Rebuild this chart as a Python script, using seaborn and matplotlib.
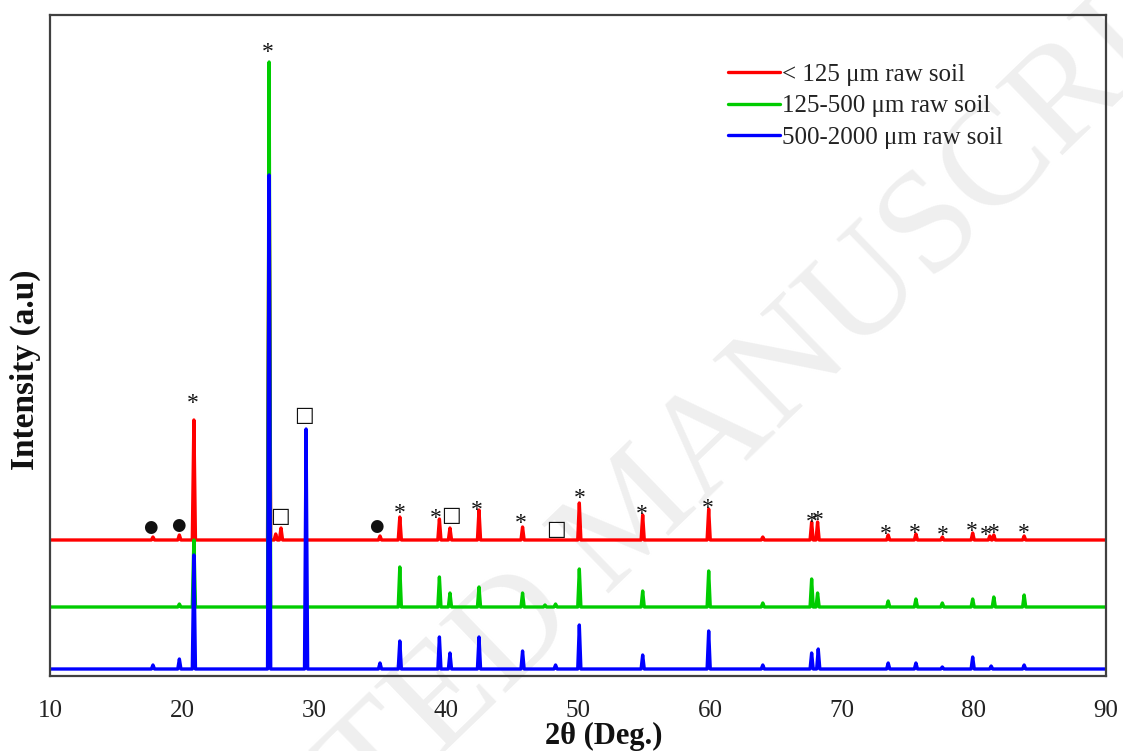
import numpy as np
import pandas as pd
import matplotlib
matplotlib.use("Agg")
import matplotlib.pyplot as plt
import seaborn as sns

# ---------------- data ----------------
series_names = ["< 125 \u03bcm raw soil", "125-500 \u03bcm raw soil", "500-2000 \u03bcm raw soil"]
series_colors = ["#ff0000", "#00cc00", "#0000ff"]

# baseline offsets of each pattern (display intensity units)
base_red = 136
base_green = 69
base_blue = 7

# peak positions (2theta, deg) and heights above baseline
red_pos = [17.8, 19.8, 20.9, 26.6, 27.1, 27.5, 35.0, 36.5, 39.5, 40.3, 42.5, 45.8, 50.1, 54.9,
           59.9, 64.0, 67.7, 68.15, 73.5, 75.6, 77.6, 79.9, 81.2, 81.5, 83.8]
red_h = [3, 5, 120, 400, 6, 12, 4, 23, 21, 12, 30, 13, 37, 25,
         31, 3, 18, 18, 5, 6, 3, 7, 4, 5, 4]

green_pos = [19.8, 20.9, 26.6, 36.5, 39.5, 40.3, 42.5, 45.8, 47.5, 48.3, 50.1, 54.9, 59.9,
             64.0, 67.7, 68.15, 73.5, 75.6, 77.6, 79.9, 81.5, 83.8]
green_h = [3, 67, 545, 40, 30, 14, 20, 14, 2, 3, 38, 16, 36,
           4, 28, 14, 6, 8, 4, 8, 10, 12]

blue_pos = [17.8, 19.8, 20.9, 26.6, 29.4, 35.0, 36.5, 39.5, 40.3, 42.5, 45.8, 48.3, 50.1,
            54.9, 59.9, 64.0, 67.7, 68.2, 73.5, 75.6, 77.6, 79.9, 81.3, 83.8]
blue_h = [4, 10, 114, 494, 240, 6, 28, 32, 16, 32, 18, 4, 44,
          14, 38, 4, 16, 20, 6, 6, 2, 12, 3, 4]

# phase markers: symbol, 2theta, display height
mark_sym = ["\u25cf", "\u25cf", "*", "*", "\u25a1", "\u25a1", "\u25cf", "*", "*", "\u25a1", "*",
            "*", "\u25a1", "*", "*", "*", "*", "*", "*", "*", "*", "*", "*", "*", "*"]
mark_x = [17.6, 19.7, 20.85, 26.5, 27.4, 29.25, 34.7, 36.5, 39.2, 40.4, 42.35,
          45.7, 48.35, 50.1, 54.85, 59.85, 67.7, 68.2, 73.3, 75.5, 77.65, 79.85, 80.9, 81.5, 83.8]
mark_y = [149, 151, 278, 629, 160, 261, 150, 168, 163, 161, 171,
          158, 147, 183, 167, 173, 159, 161, 147, 148, 146, 150, 146, 148, 148]

x_min, x_max = 10, 90
x_ticks = [10, 20, 30, 40, 50, 60, 70, 80, 90]

# ---------------- build long-form table ----------------
def profile(pos, h, base, w=0.12):
    xs, ys = [x_min], [base]
    for p, hh in zip(pos, h):
        xs += [p - w, p, p + w]
        ys += [base, base + hh, base]
    xs.append(x_max)
    ys.append(base)
    return xs, ys

rows = []
for name, pos, h, base in zip(series_names,
                              [red_pos, green_pos, blue_pos],
                              [red_h, green_h, blue_h],
                              [base_red, base_green, base_blue]):
    xs, ys = profile(pos, h, base)
    for xv, yv in zip(xs, ys):
        rows.append((name, xv, yv))
df = pd.DataFrame(rows, columns=["sample", "two_theta", "intensity"])

# ---------------- plot ----------------
sns.set_theme(style="white")
serif = ["Liberation Serif", "DejaVu Serif"]
plt.rcParams["font.family"] = serif

fig = plt.figure(figsize=(11.23, 7.51), dpi=100)
ax = fig.add_axes([50 / 1123, 75 / 751, 1056 / 1123, 661 / 751])
ax.set_facecolor("none")

# watermark (behind the data)
ax.text(0.566, 0.310, "ACCEPTED MANUSCRIPT", transform=fig.transFigure, rotation=44,
        fontsize=106, color="#efefef", ha="center", va="center", zorder=0,
        family=serif, rotation_mode="anchor", clip_on=False)

sns.lineplot(data=df, x="two_theta", y="intensity", hue="sample", hue_order=series_names,
             palette=series_colors, estimator=None, sort=False, linewidth=2.4, ax=ax,
             zorder=3)

for s, xv, yv in zip(mark_sym, mark_x, mark_y):
    if s == "*":
        ax.text(xv, yv - 11, s, ha="center", va="baseline", fontsize=17,
                family=serif, color="#111111", zorder=4)
    elif s == "\u25cf":
        ax.text(xv, yv, s, ha="center", va="center", fontsize=12,
                family=["DejaVu Sans"], color="#111111", zorder=4)
    else:
        ax.text(xv, yv, s, ha="center", va="center", fontsize=15,
                family=["DejaVu Sans"], color="#111111", zorder=4)

ax.set_xlim(x_min, x_max)
ax.set_ylim(0, 661)
ax.set_xticks(x_ticks)
ax.set_xticklabels([str(t) for t in x_ticks])
ax.set_yticks([])
ax.tick_params(axis="x", length=0, pad=17, labelsize=18, labelcolor="#222222")
for sp in ax.spines.values():
    sp.set_visible(True)
    sp.set_color("#404040")
    sp.set_linewidth(1.6)
    sp.set_zorder(5)

ax.set_xlabel("2\u03b8 (Deg.)", fontsize=22, fontweight="bold", color="#111111")
ax.xaxis.set_label_coords(0.524, -0.0908)
ax.xaxis.label.set_va("center")
ax.set_ylabel("Intensity (a.u)", fontsize=24, fontweight="bold", color="#111111")
ax.yaxis.set_label_coords(-0.0237, 0.463)
ax.yaxis.label.set_va("center")

handles, labels = ax.get_legend_handles_labels()
leg = ax.legend(handles, labels, loc="upper left", bbox_to_anchor=(728 / 1123, 1 - 63 / 751),
                bbox_transform=fig.transFigure, frameon=False, fontsize=18,
                handlelength=2.08, handletextpad=0.08, labelspacing=0.37, borderpad=0,
                borderaxespad=0)
leg.set_zorder(6)
for t in leg.get_texts():
    t.set_color("#222222")
for l in leg.get_lines():
    l.set_linewidth(2.4)

fig.savefig("out.png", dpi=100)
